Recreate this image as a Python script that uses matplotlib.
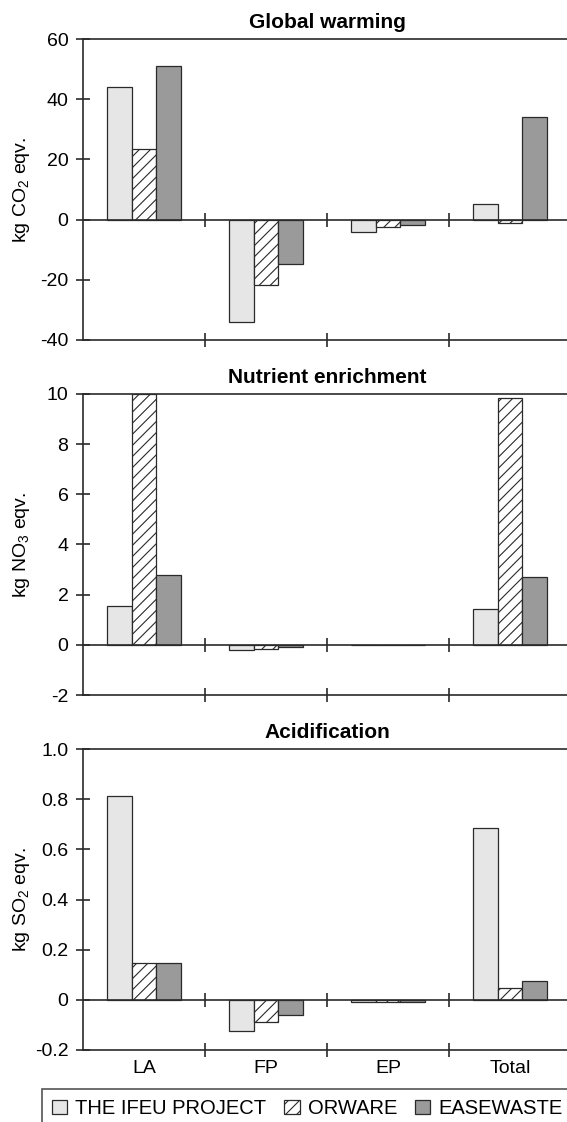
import matplotlib
matplotlib.use("Agg")
import matplotlib.pyplot as plt
from matplotlib.ticker import FixedLocator, FuncFormatter
import numpy as np

plt.rcParams["font.family"] = ["Liberation Sans", "DejaVu Sans"]
plt.rcParams["mathtext.fontset"] = "custom"
plt.rcParams["mathtext.rm"] = "Liberation Sans"
plt.rcParams["hatch.linewidth"] = 0.8

categories = ["LA", "FP", "EP", "Total"]
series_names = ["THE IFEU PROJECT", "ORWARE", "EASEWASTE"]

# global warming, kg CO2 eqv.
gw_ifeu = [44, -34, -4.2, 5.2]
gw_orware = [23.3, -21.8, -2.6, -1.2]
gw_easewaste = [51, -14.7, -1.9, 34]

# nutrient enrichment, kg NO3 eqv.
ne_ifeu = [1.54, -0.21, 0, 1.41]
ne_orware = [10.0, -0.15, 0, 9.84]
ne_easewaste = [2.79, -0.07, 0, 2.71]

# acidification, kg SO2 eqv.
ac_ifeu = [0.812, -0.125, -0.007, 0.687]
ac_orware = [0.145, -0.09, -0.007, 0.049]
ac_easewaste = [0.145, -0.061, -0.007, 0.077]

panels = [
    ("Global warming", r"kg CO$_2$ eqv.", (gw_ifeu, gw_orware, gw_easewaste),
     [-40, -20, 0, 20, 40, 60]),
    ("Nutrient enrichment", r"kg NO$_3$ eqv.", (ne_ifeu, ne_orware, ne_easewaste),
     [-2, 0, 2, 4, 6, 8, 10]),
    ("Acidification", r"kg SO$_2$ eqv.", (ac_ifeu, ac_orware, ac_easewaste),
     [-0.2, 0, 0.2, 0.4, 0.6, 0.8, 1.0]),
]

face_colors = ["#e6e6e6", "white", "#9a9a9a"]
hatches = [None, "///", None]
edge = "#2a2a2a"

W, H = 567, 1122
fig = plt.figure(figsize=(W / 100, H / 100), dpi=100)

ax_left, ax_right = 83, 571
tops = [39, 394, 749]
ax_h = 301

x = np.arange(len(categories))
bar_w = 0.2
bounds = [0.5, 1.5, 2.5, 3.5]


def fmt_tick(v, _pos):
    if abs(v) < 1e-9:
        return "0"
    if abs(v - round(v)) < 1e-9 and abs(v) >= 2:
        return f"{int(round(v))}"
    return f"{v:.1f}"


bar_handles = []
for i, (title, ylabel, series, yticks) in enumerate(panels):
    ax = fig.add_axes([ax_left / W, 1 - (tops[i] + ax_h) / H,
                       (ax_right - ax_left) / W, ax_h / H])
    bar_handles = []
    for j, vals in enumerate(series):
        b = ax.bar(x + (j - 1) * bar_w, vals, bar_w, color=face_colors[j],
                   edgecolor=edge, linewidth=0.9, hatch=hatches[j],
                   label=series_names[j], zorder=2)
        bar_handles.append(b)
    ax.axhline(0, color=edge, lw=1.2, zorder=3)
    ax.plot(bounds[:3], [0] * 3, ls="none", marker="|", ms=10, mew=1.2,
            color=edge, zorder=3)

    ax.set_xlim(-0.5, 3.5)
    ax.set_ylim(yticks[0], yticks[-1])
    ax.yaxis.set_major_locator(FixedLocator(yticks))
    ax.yaxis.set_major_formatter(FuncFormatter(fmt_tick))
    ax.tick_params(axis="y", direction="inout", length=10, width=1.2,
                   color=edge, labelsize=14, pad=5.5)
    ax.set_xticks(x)
    ax.set_xticklabels(categories if i == 2 else [""] * 4)
    ax.tick_params(axis="x", which="major", length=0, labelsize=14, pad=7)
    ax.set_xticks(bounds, minor=True)
    ax.tick_params(axis="x", which="minor", direction="inout", length=10,
                   width=1.2, color=edge)

    for side in ("left", "top", "bottom"):
        ax.spines[side].set_color(edge)
        ax.spines[side].set_linewidth(1.2)
    ax.spines["right"].set_visible(False)

    ax.set_title(title, fontsize=15, fontweight="bold", pad=8)
    ax.set_ylabel(ylabel, fontsize=14)
    ax.yaxis.set_label_coords(-51 / (ax_right - ax_left), 0.5)

leg = fig.legend(handles=bar_handles, labels=series_names, ncol=3,
                 loc="upper left", bbox_to_anchor=(42 / W, 1 - 1089 / H),
                 fontsize=14.5, frameon=True, fancybox=False,
                 handlelength=0.75, handleheight=0.75, handletextpad=0.4,
                 columnspacing=0.9, borderpad=0.5, borderaxespad=0)
leg.get_frame().set_edgecolor(edge)
leg.get_frame().set_linewidth(1.2)

fig.savefig("out.png", dpi=100)
